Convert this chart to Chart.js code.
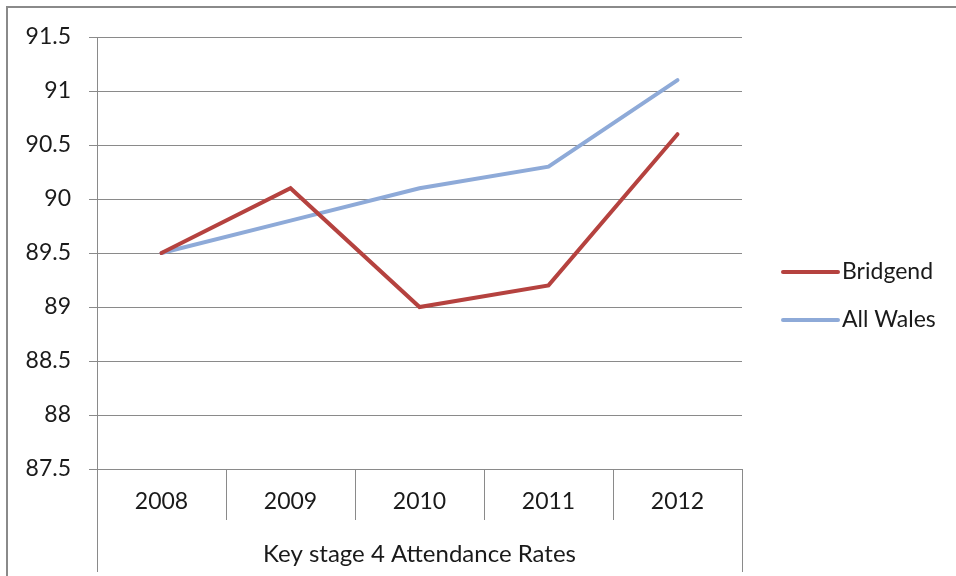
<!DOCTYPE html>
<html>
<head>
<meta charset="utf-8">
<script src="https://cdn.jsdelivr.net/npm/chart.js@4.4.1/dist/chart.umd.min.js"></script>
<style>
  html, body { margin: 0; padding: 0; background: #fff; }
  #wrap { position: relative; width: 956px; height: 576px; }
</style>
</head>
<body>
<div id="wrap"><canvas id="c" width="956" height="576"></canvas></div>
<script>
const categories = ['2008', '2009', '2010', '2011', '2012'];
const bridgend = [89.5, 90.1, 89.0, 89.2, 90.6];
const allWales = [89.5, 89.8, 90.1, 90.3, 91.1];
const seriesNames = ['Bridgend', 'All Wales'];
const axisTitle = 'Key stage 4 Attendance Rates';
const yMin = 87.5, yMax = 91.5, yStep = 0.5;

const FONT = 'Lato, "Open Sans", sans-serif';
const GRID = '#8a8a8a';
const TEXT = '#1a1a1a';

const framePlugin = {
  id: 'frame',
  beforeDraw(chart) {
    const ctx = chart.ctx;
    ctx.save();
    ctx.strokeStyle = '#8a8a8a';
    ctx.lineWidth = 2;
    ctx.strokeRect(7, 7, chart.width + 20, chart.height + 20);
    ctx.restore();
  },
  afterDraw(chart) {
    const ctx = chart.ctx;
    const a = chart.chartArea;
    ctx.save();
    ctx.strokeStyle = GRID;
    ctx.lineWidth = 1;
    ctx.beginPath();
    ctx.moveTo(Math.round(a.left) + 0.5, a.bottom);
    ctx.lineTo(Math.round(a.left) + 0.5, chart.height - 4);
    ctx.moveTo(Math.round(a.right) + 0.5, a.bottom);
    ctx.lineTo(Math.round(a.right) + 0.5, chart.height - 4);
    ctx.stroke();
    // legend
    const lx = a.right + 41;
    let ly = 272;
    chart.data.datasets.forEach((ds) => {
      ctx.strokeStyle = ds.borderColor;
      ctx.lineWidth = 4;
      ctx.lineCap = 'round';
      ctx.beginPath();
      ctx.moveTo(lx, ly);
      ctx.lineTo(lx + 55, ly);
      ctx.stroke();
      ctx.fillStyle = TEXT;
      ctx.font = '23px ' + FONT;
      ctx.textBaseline = 'middle';
      ctx.textAlign = 'left';
      ctx.fillText(ds.label, lx + 59, ly);
      ly += 48;
    });
    ctx.restore();
  }
};

new Chart(document.getElementById('c'), {
  type: 'line',
  data: {
    labels: categories,
    datasets: [
      { label: seriesNames[0], data: bridgend, borderColor: '#b5423f', backgroundColor: '#b5423f',
        borderWidth: 4, pointRadius: 0, tension: 0, borderCapStyle: 'round', borderJoinStyle: 'miter' },
      { label: seriesNames[1], data: allWales, borderColor: '#8eaad8', backgroundColor: '#8eaad8',
        borderWidth: 4, pointRadius: 0, tension: 0, borderCapStyle: 'round', borderJoinStyle: 'miter' }
    ]
  },
  options: {
    responsive: false,
    animation: false,
    layout: { padding: { left: 8, top: 37, right: 214, bottom: 0 } },
    plugins: { legend: { display: false }, tooltip: { enabled: false } },
    scales: {
      x: {
        type: 'category',
        offset: true,
        grid: { offset: true, drawOnChartArea: false, drawTicks: true, tickLength: 51, color: GRID, lineWidth: 1 },
        border: { display: true, color: GRID, width: 1 },
        ticks: { color: TEXT, font: { family: FONT, size: 23 }, padding: -32, maxRotation: 0 },
        title: { display: true, text: axisTitle, color: TEXT, font: { family: FONT, size: 24 }, padding: { top: 0, bottom: 7 } },
        afterFit(scale) { scale.height = 107; }
      },
      y: {
        min: yMin, max: yMax,
        grid: { color: GRID, lineWidth: 1, tickLength: 8, drawTicks: true },
        border: { display: true, color: GRID, width: 1 },
        ticks: { stepSize: yStep, color: TEXT, font: { family: FONT, size: 23 }, padding: 18,
          callback: (v) => String(Number(v.toFixed(1))) },
        afterFit(scale) { scale.width = 89; }
      }
    }
  },
  plugins: [framePlugin]
});
</script>
</body>
</html>
